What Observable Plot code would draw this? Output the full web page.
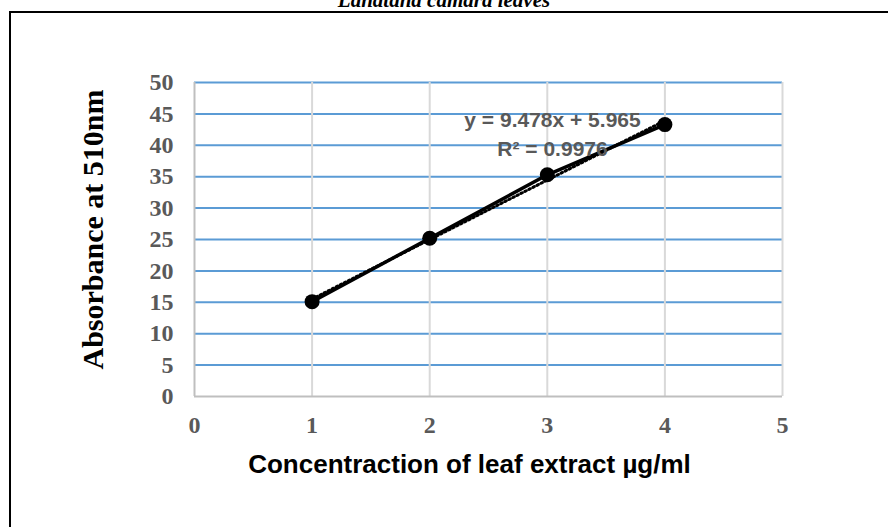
<!DOCTYPE html>
<html>
<head>
<meta charset="utf-8">
<script src="https://cdn.jsdelivr.net/npm/d3@7"></script>
<script src="https://cdn.jsdelivr.net/npm/@observablehq/plot@0.6"></script>
<style>
  html, body { margin: 0; padding: 0; background: #fff; }
  #wrap { position: relative; width: 888px; height: 527px; overflow: hidden; background: #fff; }
  #border { position: absolute; left: 9px; top: 11px; width: 1000px; height: 1000px;
            border-left: 2px solid #000; border-top: 2px solid #000; box-sizing: border-box; pointer-events: none; }
  #title { position: absolute; left: 0; width: 888px; top: -10px; text-align: center;
           font-family: "Liberation Serif", serif; font-weight: bold; font-style: italic;
           font-size: 21px; line-height: 1; color: #000; }
</style>
</head>
<body>
<div id="wrap">
  <div id="chart"></div>
  <div id="title"></div>
  <div id="border"></div>
</div>
<script>
// Data
const concentration = [1, 2, 3, 4];
const absorbance = [15.1, 25.2, 35.3, 43.3];
const xTicks = [0, 1, 2, 3, 4, 5];
const yTicks = [0, 5, 10, 15, 20, 25, 30, 35, 40, 45, 50];
const chartTitle = "Lanatana camara leaves";
const xTitle = "Concentraction of leaf extract µg/ml";
const yTitle = "Absorbance at 510nm";
const equationLines = ["y = 9.478x + 5.965", "R² = 0.9976"];

const data = concentration.map((c, i) => ({c, a: absorbance[i]}));
document.getElementById("title").textContent = chartTitle;

const serif = "Liberation Serif, Times New Roman, serif";
const sans = "Liberation Sans, Arial, sans-serif";

const chart = Plot.plot({
  width: 888,
  height: 527,
  marginLeft: 194,
  marginRight: 106,
  marginTop: 82,
  marginBottom: 131,
  style: {fontFamily: serif, background: "#fff"},
  x: {domain: [0, 5], ticks: xTicks},
  y: {domain: [0, 50], ticks: yTicks},
  marks: [
    Plot.gridY(yTicks.filter(d => d > 0), {stroke: "#5b9bd5", strokeOpacity: 1, strokeWidth: 2}),
    Plot.gridX(xTicks.filter(d => d > 0), {stroke: "#d9d9d9", strokeOpacity: 1, strokeWidth: 2}),
    Plot.ruleX([0], {stroke: "#bfbfbf", strokeWidth: 2}),
    Plot.ruleY([0], {stroke: "#bfbfbf", strokeWidth: 2}),
    Plot.axisY(yTicks, {tickSize: 0, tickPadding: 21, tickFormat: d => String(d), fontSize: 24, fontWeight: "bold", fill: "#595959", label: null}),
    Plot.axisX(xTicks, {tickSize: 0, tickPadding: 19, tickFormat: d => String(d), fontSize: 24, fontWeight: "bold", fill: "#595959", label: null}),
    Plot.linearRegressionY(data, {x: "c", y: "a", ci: 0, stroke: "#000", strokeWidth: 3, strokeDasharray: "1.5 3", strokeLinecap: "round"}),
    Plot.line(data, {x: "c", y: "a", stroke: "#000", strokeWidth: 3.5}),
    Plot.dot(data, {x: "c", y: "a", r: 7.5, fill: "#000", stroke: null}),
    Plot.text([equationLines[0]], {frameAnchor: "top-left", textAnchor: "middle", lineAnchor: "middle", dx: 358, dy: 38, fontFamily: sans, fontWeight: "bold", fontSize: 21, fill: "#595959"}),
    Plot.text([equationLines[1]], {frameAnchor: "top-left", textAnchor: "middle", lineAnchor: "middle", dx: 358, dy: 67, fontFamily: sans, fontWeight: "bold", fontSize: 21, fill: "#595959"}),
    Plot.text([yTitle], {frameAnchor: "left", textAnchor: "middle", lineAnchor: "middle", dx: -101, dy: -10, rotate: -90, fontFamily: serif, fontWeight: "bold", fontSize: 30, fill: "#000"}),
    Plot.text([xTitle], {frameAnchor: "bottom", dx: -19, dy: 76, fontFamily: sans, fontWeight: "bold", fontSize: 26, fill: "#000"})
  ]
});
document.getElementById("chart").appendChild(chart);
</script>
</body>
</html>
